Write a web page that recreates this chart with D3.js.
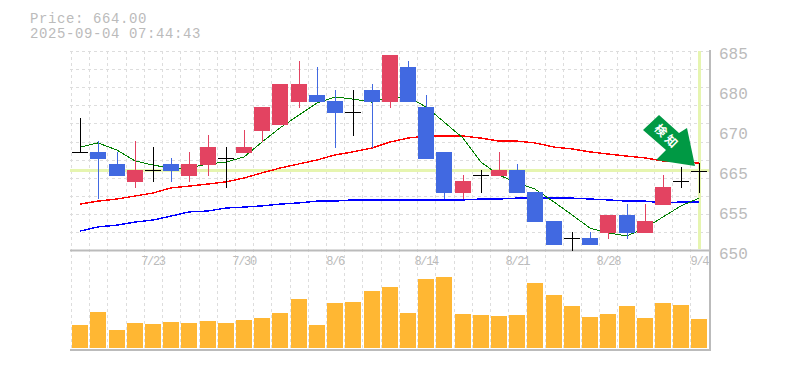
<!DOCTYPE html>
<html>
<head>
<meta charset="utf-8">
<script src="https://cdn.jsdelivr.net/npm/d3@7"></script>
<style>
  html, body { margin: 0; background: #fff; }
  text { font-family: "Liberation Mono", monospace; fill: #bbb; }
</style>
</head>
<body>
<svg id="chart" width="785" height="370"></svg>
<script>
const dates = ["7/16","7/17","7/18","7/22","7/23","7/24","7/25","7/28","7/29","7/30","7/31","8/1","8/4","8/5","8/6","8/7","8/8","8/12","8/13","8/14","8/15","8/18","8/19","8/20","8/21","8/22","8/25","8/26","8/27","8/28","8/29","9/1","9/2","9/3","9/4"];
const dateTicks = ["7/23","7/30","8/6","8/14","8/21","8/28","9/4"];
const priceLabels = ["685","680","670","665","655","650"];

const opens  = [667.1,667.1,665.1,662.1,664.1,665.1,663.1,664.9,666.1,666.9,670.6,671.6,675.4,676.6,675.6,673.75,677.4,675.4,681.25,674.6,667.1,660.25,663.25,663.1,664.1,660.4,655.6,652.75,652.75,653.6,656.6,653.6,658.25,662.25,664];
const highs  = [672.75,668.9,667.1,668.9,667.9,666.1,667.1,669.9,667.9,670.75,674.6,678.4,682.25,681.25,677.4,677.4,678.4,683.25,682.25,676.6,667.1,663.25,664.1,667.1,665.1,660.4,655.6,653.75,653.75,656.6,658.4,658.4,663.25,664.6,665.25];
const lows   = [667.1,659.25,663.1,661.1,662.1,662.1,662.1,663.1,661.1,666.9,668.75,671.6,674.4,675.4,667.75,669.75,667.75,674.4,675.4,665.9,659.25,659.25,660.25,663.1,660.25,655.4,651.6,650.6,651.6,652.6,652.6,653.6,658.25,661.1,660.25];
const closes = [667.1,665.9,663.1,664.1,664.1,664,665.1,667.9,666.1,667.9,674.6,678.4,678.4,675.4,673.6,673.75,675.4,683.25,675.4,665.9,660.25,662.25,663.25,664.1,660.25,655.4,651.6,652.75,651.6,656.6,653.6,655.6,661.25,662.25,664];

const maShort = [667.9,668.6,667.4,665.6,664.9,664.4,664.4,665.1,665.4,666.25,668.75,671.1,673.25,675.25,676.25,675.9,675.4,676.25,676.25,674.6,672.1,669.4,665.4,663.25,661.9,660.9,658.75,656.6,654.4,653.6,653.1,654.4,656.25,658.1,659.4];
const maMid   = [658.4,658.9,659.25,659.75,660.25,661.1,661.4,661.75,662.1,662.75,663.6,664.4,665.1,665.75,666.6,667.1,667.75,668.75,669.4,669.75,669.75,669.75,669.4,668.9,668.9,668.6,667.9,667.6,667.1,666.75,666.4,666.1,665.6,665.4,665.25];
const maLong  = [653.9,654.6,654.9,655.4,655.75,656.4,657.1,657.25,657.75,657.9,658.1,658.4,658.6,658.9,658.9,659.1,659.1,659.1,659.1,659.1,659.1,659.1,659.25,659.25,659.4,659.4,659.4,659.4,659.25,659.1,658.9,658.9,658.6,658.75,658.75];
const volumes = [23,36,18,25,24,26,25,27,25,28,30,35,49,23,45,46,57,61,35,69,71,34,33,32,33,65,53,42,31,34,42,30,45,43,29];
const lastPrice = 664;

const svg = d3.select("#chart");
const plotLeft = 71, plotRight = 708.5, plotTop = 51, priceBottom = 250, volBottom = 350;

const x = d3.scaleBand().domain(dates).range([plotLeft, plotRight]);
const cx = d => Math.round(x(d) + x.bandwidth() / 2);
// 6px per yen
const y = d3.scaleLinear().domain([650, 664]).range([254.5, 170.5]);
const yLabel = d3.scalePoint().domain(priceLabels).range([53, 253]);
const yVol = d3.scaleLinear().domain([0, 100]).range([348, 248]);

// grid
const gridH = d3.range(plotTop, priceBottom - 10, 18.1);
svg.append("g").selectAll("line").data(gridH).enter().append("line")
  .attr("x1", plotLeft - 1).attr("x2", plotRight + 1)
  .attr("y1", d => Math.round(d) + 0.5).attr("y2", d => Math.round(d) + 0.5)
  .attr("stroke", "#ddd").attr("stroke-dasharray", "3,3");
svg.append("g").selectAll("line").data(dates).enter().append("line")
  .attr("x1", d => Math.round(x(d)) + 0.5).attr("x2", d => Math.round(x(d)) + 0.5)
  .attr("y1", plotTop).attr("y2", volBottom)
  .attr("stroke", "#ddd").attr("stroke-dasharray", "3,3");

// current price guides
svg.append("line").attr("x1", 70).attr("x2", 710).attr("y1", y(lastPrice)).attr("y2", y(lastPrice))
  .attr("stroke", "#e6f5b0").attr("stroke-width", 3);
svg.append("line").attr("x1", cx("9/4") + 0.5).attr("x2", cx("9/4") + 0.5).attr("y1", plotTop).attr("y2", 249)
  .attr("stroke", "#e6f5b0").attr("stroke-width", 3);

// frame
svg.append("line").attr("x1", 70).attr("x2", 710).attr("y1", priceBottom + 0.5).attr("y2", priceBottom + 0.5).attr("stroke", "#bbb").attr("stroke-width", 2);
svg.append("line").attr("x1", 70).attr("x2", 710).attr("y1", volBottom).attr("y2", volBottom).attr("stroke", "#bbb").attr("stroke-width", 2);
svg.append("line").attr("x1", 710).attr("x2", 710).attr("y1", 50).attr("y2", volBottom + 1).attr("stroke", "#bbb").attr("stroke-width", 2);

// volume
svg.append("g").selectAll("rect").data(dates).enter().append("rect")
  .attr("x", d => cx(d) - 8).attr("width", 16)
  .attr("y", (d, i) => yVol(volumes[i]))
  .attr("height", (d, i) => yVol(0) - yVol(volumes[i]))
  .attr("fill", "#ffb733")
  .attr("shape-rendering", "crispEdges");

// moving averages
const line = vals => d3.line().x((d, i) => cx(dates[i])).y(d => y(d))(vals);
[[maLong, "#0000ff", 1.4], [maMid, "#ff0000", 1.4], [maShort, "#008000", 1]].forEach(m => {
  svg.append("path").attr("d", line(m[0])).attr("fill", "none")
    .attr("stroke", m[1]).attr("stroke-width", m[2])
    .attr("shape-rendering", "crispEdges");
});

// candles
const color = i => closes[i] > opens[i] ? "#e34361" : closes[i] < opens[i] ? "#4169e1" : "#000";
const candles = svg.append("g").attr("shape-rendering", "crispEdges");
candles.selectAll("line.wick").data(dates).enter().append("line")
  .attr("class", "wick")
  .attr("x1", d => cx(d) + 0.5).attr("x2", d => cx(d) + 0.5)
  .attr("y1", (d, i) => y(highs[i])).attr("y2", (d, i) => y(lows[i]))
  .attr("stroke", (d, i) => color(i)).attr("stroke-width", 1);
candles.selectAll("rect").data(dates).enter().append("rect")
  .attr("x", d => cx(d) - 8).attr("width", 16)
  .attr("y", (d, i) => y(Math.max(opens[i], closes[i])))
  .attr("height", (d, i) => Math.max(1, Math.abs(y(opens[i]) - y(closes[i]))))
  .attr("fill", (d, i) => color(i));

// signal arrow above the last candle
const arrow = svg.append("g")
  .attr("transform", `translate(${cx("9/4")},${y(highs[34])})`);
arrow.append("path")
  .attr("d", "M-4,3 L-43,-3 L-33,-13 L-56,-33 L-40,-48 L-20,-30 L-12,-35 Z")
  .attr("fill", "#009944");
arrow.append("text")
  .attr("transform", "translate(-32,-26) rotate(45)")
  .attr("text-anchor", "middle").attr("dy", "0.35em")
  .style("font-family", "'Noto Sans CJK JP'").style("font-size", "12px").style("font-weight", "bold").style("fill", "#fff")
  .style("letter-spacing", "3px")
  .text("検知");

// axes
const xAxis = svg.append("g").attr("transform", `translate(0,${priceBottom})`)
  .call(d3.axisBottom(x).tickValues(dateTicks).tickSize(0).tickPadding(6));
xAxis.select(".domain").remove();
xAxis.selectAll("text").style("font-size", "12px").style("letter-spacing", "-1.3px").style("fill", "#bbb");

const yAxis = svg.append("g").attr("transform", "translate(710,0)")
  .call(d3.axisRight(yLabel).tickSize(0).tickPadding(9));
yAxis.select(".domain").remove();
yAxis.selectAll("text").style("font-size", "16px").style("fill", "#bbb");

// title
svg.append("text").attr("x", 30).attr("y", 23).style("font-size", "14px").style("letter-spacing", "0.6px").text("Price: 664.00");
svg.append("text").attr("x", 30).attr("y", 38).style("font-size", "14px").style("letter-spacing", "0.6px").text("2025-09-04 07:44:43");
</script>
</body>
</html>
